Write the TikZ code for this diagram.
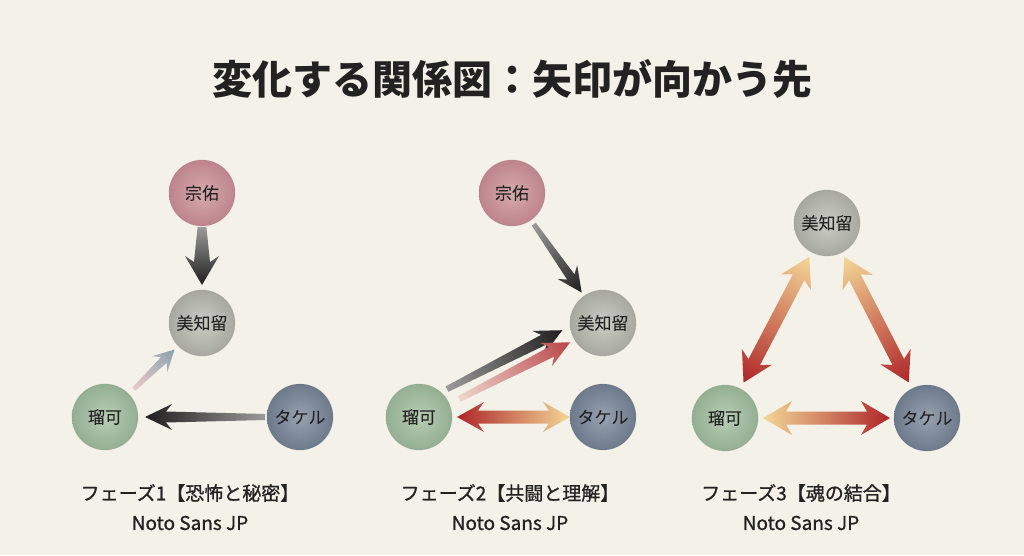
\documentclass[tikz,border=0pt]{standalone}
\usepackage{fontspec}
\setmainfont{Noto Sans CJK JP}
\newfontfamily\jpmid[FakeBold=0.9]{Noto Sans CJK JP}
\usetikzlibrary{calc}
\definecolor{paper}{HTML}{F4F1E8}
\definecolor{ink}{HTML}{222222}
\definecolor{sosukeO}{HTML}{BD858B}\definecolor{sosukeI}{HTML}{D6AAAD}
\definecolor{michiruO}{HTML}{A7A8A0}\definecolor{michiruI}{HTML}{CBCCC4}
\definecolor{rukaO}{HTML}{93AF92}\definecolor{rukaI}{HTML}{B9CDB6}
\definecolor{takeruO}{HTML}{6C7A8B}\definecolor{takeruI}{HTML}{98A2AF}
\definecolor{agray}{HTML}{9A9A98}\definecolor{ablack}{HTML}{1E1E1E}
\definecolor{ared}{HTML}{AE2529}\definecolor{ayellow}{HTML}{F3D796}
\definecolor{apale}{HTML}{EED6CC}\definecolor{apink}{HTML}{E9C6C4}
\definecolor{ablue}{HTML}{7F9AAA}
\newdimen\gaxa \newdimen\gaya \newdimen\gaxb \newdimen\gayb
% #1 start, #2 end, #3 shading options, #4 shaft half width, #5 head half width, #6 head length, #7 double (1) or single (0)
\newcommand\wa[7]{%
  \path (#1) coordinate (gaS) (#2) coordinate (gaE);
  \pgfextractx{\gaxa}{\pgfpointanchor{gaS}{center}}%
  \pgfextracty{\gaya}{\pgfpointanchor{gaS}{center}}%
  \pgfextractx{\gaxb}{\pgfpointanchor{gaE}{center}}%
  \pgfextracty{\gayb}{\pgfpointanchor{gaE}{center}}%
  \pgfmathsetmacro\gaang{atan2(\gayb-\gaya,\gaxb-\gaxa)}%
  \pgfmathsetmacro\galen{veclen(\gaxb-\gaxa,\gayb-\gaya)}%
  \begin{scope}[transform canvas={shift={(\the\gaxa,\the\gaya)},rotate=\gaang}]
  \ifnum#7=1
    \shade[#3] (0,0) -- ({#6+5},{-#5}) -- ({#6-1},{-#4}) -- ({\galen-#6+1},{-#4}) -- ({\galen-#6-5},{-#5})
      -- (\galen,0) -- ({\galen-#6-5},#5) -- ({\galen-#6+1},#4) -- ({#6-1},#4) -- ({#6+5},#5) -- cycle;
  \else
    \shade[#3] (0,{-0.55*#4}) -- ({\galen-#6+1},{-#4}) -- ({\galen-#6-5},{-#5})
      -- (\galen,0) -- ({\galen-#6-5},#5) -- ({\galen-#6+1},#4) -- (0,{0.55*#4}) -- cycle;
  \fi
  \end{scope}}
\tikzset{
  pc/.style={circle, minimum size=66pt, inner sep=0pt, text=ink,
    font=\jpmid\fontsize{17pt}{20pt}\selectfont, draw opacity=0.2, line width=0.8pt},
  sosuke/.style={pc, inner color=sosukeI, outer color=sosukeO, draw=sosukeO!80!black},
  michiru/.style={pc, inner color=michiruI, outer color=michiruO, draw=michiruO!80!black},
  ruka/.style={pc, inner color=rukaI, outer color=rukaO, draw=rukaO!80!black},
  takeru/.style={pc, inner color=takeruI, outer color=takeruO, draw=takeruO!80!black},
  captxt/.style={text=ink, font=\jpmid\fontsize{19pt}{22pt}\selectfont, inner sep=0pt},
  dark/.style={left color=agray, right color=ablack},
  warm/.style={left color=ayellow, middle color=ayellow!55!ared, right color=ared},
}
\begin{document}
\begin{tikzpicture}[x=1pt,y=1pt]
\useasboundingbox (0,0) rectangle (1024,555);
\fill[paper] (0,0) rectangle (1024,555);

\node[text=ink, font=\bfseries\fontsize{40pt}{48pt}\selectfont] (title) at (512,476) {変化する関係図：矢印が向かう先};

% Phase 1
\node[sosuke] (s1) at (202,362) {宗佑};
\node[michiru] (m1) at (202,232) {美知留};
\node[ruka] (r1) at (105,138) {瑠可};
\node[takeru] (t1) at (300,138) {タケル};
\wa{$(s1)!34pt!(m1)$}{$(m1)!38pt!(s1)$}{dark}{8}{17}{24}{0}
\wa{$(t1)!35pt!(r1)$}{$(r1)!40pt!(t1)$}{dark}{5.5}{13}{22}{0}
\wa{$(r1)!40pt!(m1)$}{$(m1)!38pt!(r1)$}{left color=apink, right color=ablue, opacity=0.9}{4}{11}{16}{0}

% Phase 2
\node[sosuke] (s2) at (512,362) {宗佑};
\node[michiru] (m2) at (603,232) {美知留};
\node[ruka] (r2) at (419,138) {瑠可};
\node[takeru] (t2) at (603,138) {タケル};
\wa{$(s2)!38pt!(m2)$}{$(m2)!37pt!(s2)$}{dark}{4.5}{12}{20}{0}
\wa{$(r2)!37pt!(m2)+(-5pt,11pt)$}{$(m2)!40pt!(r2)+(-5pt,11pt)$}{dark}{5.5}{13}{22}{0}
\wa{$(r2)!44pt!(m2)+(1pt,-2pt)$}{$(m2)!38pt!(r2)+(1pt,-2pt)$}{left color=apale, right color=ared!85!white}{5.5}{13}{22}{0}
\wa{$(r2)!38pt!(t2)$}{$(t2)!33pt!(r2)$}{left color=ared, right color=ayellow}{6.5}{15}{22}{1}

% Phase 3
\node[michiru] (m3) at (827,332) {美知留};
\node[ruka] (r3) at (725,137) {瑠可};
\node[takeru] (t3) at (927,137) {タケル};
\wa{$(m3)!38pt!(r3)$}{$(r3)!40pt!(m3)$}{warm}{6.5}{17}{24}{1}
\wa{$(m3)!38pt!(t3)$}{$(t3)!40pt!(m3)$}{warm}{6.5}{17}{24}{1}
\wa{$(r3)!38pt!(t3)$}{$(t3)!37pt!(r3)$}{warm}{6.5}{17}{24}{1}

% Captions
\node[captxt] (c1a) at (190,62) {フェーズ1【恐怖と秘密】};
\node[captxt] (c1b) at (190,32) {Noto Sans JP};
\node[captxt] (c2a) at (510,62) {フェーズ2【共闘と理解】};
\node[captxt] (c2b) at (510,32) {Noto Sans JP};
\node[captxt] (c3a) at (801,62) {フェーズ3【魂の結合】};
\node[captxt] (c3b) at (801,32) {Noto Sans JP};
\end{tikzpicture}
\end{document}
